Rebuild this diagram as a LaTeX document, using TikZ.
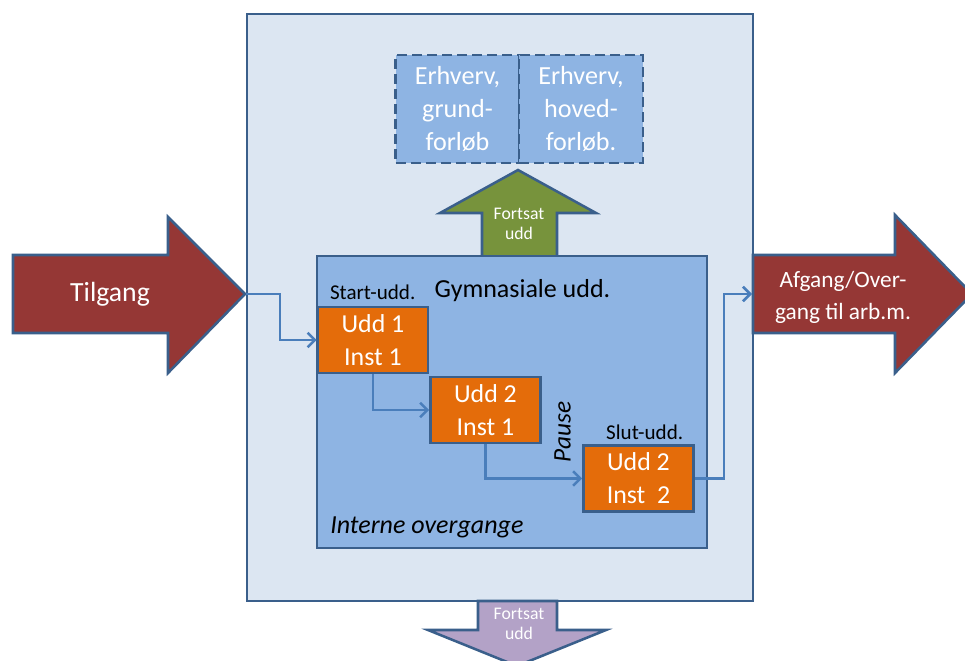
\documentclass[tikz,border=0pt]{standalone}
\usepackage{fontspec}
\setmainfont{Carlito}
\usetikzlibrary{arrows.meta}
\definecolor{bordc}{HTML}{3A5F8B}
\definecolor{lightbg}{HTML}{DCE6F2}
\definecolor{midblue}{HTML}{8EB4E3}
\definecolor{orangec}{HTML}{E46C0A}
\definecolor{redc}{HTML}{953735}
\definecolor{greenc}{HTML}{77933C}
\definecolor{purplec}{HTML}{B3A2C7}
\definecolor{connc}{HTML}{4A7EBB}
\begin{document}
\begin{tikzpicture}[x=0.75pt,y=-0.75pt,
  bigbox/.style={draw=bordc, line width=1.9pt, inner sep=0pt},
  obox/.style={draw=bordc, line width=1.9pt, fill=orangec, text=white, minimum width=82.5pt, minimum height=49.5pt, inner sep=0pt, align=center, font=\fontsize{19.4}{24.75}\selectfont},
  dbox/.style={draw=bordc, dash pattern=on 7.5pt off 3.75pt, line width=2.1pt, fill=midblue, text=white, minimum width=93pt, minimum height=81pt, inner sep=0pt, align=center, font=\fontsize{19.6}{24.75}\selectfont},
  bigarrow/.style={draw=bordc, line width=1.9pt},
  conn/.style={draw=connc, line width=1.9pt, -{Straight Barb[length=5.5pt,width=11pt]}},
  lbl/.style={text=black, inner sep=0pt},
  wtxt/.style={text=white, inner sep=0pt, align=center}
]
\useasboundingbox (0,0) rectangle (965,661);
\clip (0,0) rectangle (965,661);
\fill[white] (0,0) rectangle (965,661);

% main box
\node[bigbox, fill=lightbg, minimum width=379.5pt, minimum height=440.25pt] (main) at (500,307.5) {};

% Tilgang arrow
\draw[bigarrow, fill=redc] (13,255) -- (168,255) -- (168,217) -- (245,294) -- (168,373) -- (168,333) -- (13,333) -- cycle;
\coordinate (tiltip) at (246,294);
\node[wtxt, font=\fontsize{20.8}{25}\selectfont] (tilt) at (110,294) {Tilgang};

% Afgang arrow
\draw[bigarrow, fill=redc] (753,255) -- (895,255) -- (895,215) -- (972,294) -- (895,373) -- (895,333) -- (753,333) -- cycle;
\coordinate (outtail) at (752,294);
\node[wtxt, font=\fontsize{17.5}{24}\selectfont] (aft) at (843,297) {Afgang/Over-\\gang til arb.m.};

% green arrow
\draw[bigarrow, fill=greenc] (482,257) -- (482,213) -- (440,213) -- (518,170) -- (596,213) -- (557,213) -- (557,257) -- cycle;
\node[wtxt, font=\fontsize{13.3}{15}\selectfont] (fort1) at (519,224) {Fortsat\\udd};

% purple arrow
\draw[bigarrow, fill=purplec] (478,601) -- (478,630) -- (428,630) -- (517,666) -- (606,630) -- (557,630) -- (557,601) -- cycle;
\node[wtxt, font=\fontsize{13.3}{15}\selectfont] (fort2) at (519,624) {Fortsat\\udd};

% dashed boxes
\node[dbox] (erh1) at (457.5,109) {Erhverv,\\grund-\\forløb};
\node[dbox] (erh2) at (581,109) {Erhverv,\\hoved-\\forløb.};

% inner box
\node[bigbox, fill=midblue, minimum width=292.5pt, minimum height=219pt] (gym) at (512,402) {};
\node[lbl, font=\fontsize{19.5}{23}\selectfont] (gymt) at (522.5,291) {Gymnasiale udd.};
\node[lbl, font=\fontsize{15.8}{19}\selectfont] (start) at (372.7,292) {Start-udd.};
\node[lbl, font=\fontsize{15.8}{19}\selectfont] (slut) at (644.7,432) {Slut-udd.};
\node[lbl, font=\fontsize{19}{23}\selectfont\itshape, rotate=90] (pause) at (562.5,432) {Pause};
\node[lbl, font=\fontsize{19.5}{23}\selectfont\itshape, anchor=west] (intern) at (330,527) {Interne overgange};

% orange boxes
\node[obox] (b1) at (373,340) {Udd 1\\Inst 1};
\node[obox] (b2) at (485.5,410) {Udd 2\\Inst 1};
\node[obox] (b3) at (638.5,478.5) {Udd 2\\Inst~~2};

% connectors
\draw[conn] (tiltip) -- ++(34,0) |- (b1.west);
\draw[conn] (b1.south) |- (b2.west);
\draw[conn] (b2.south) |- (b3.west);
\draw[conn] (b3.east) -- ++(29,0) |- (outtail);
\end{tikzpicture}
\end{document}
